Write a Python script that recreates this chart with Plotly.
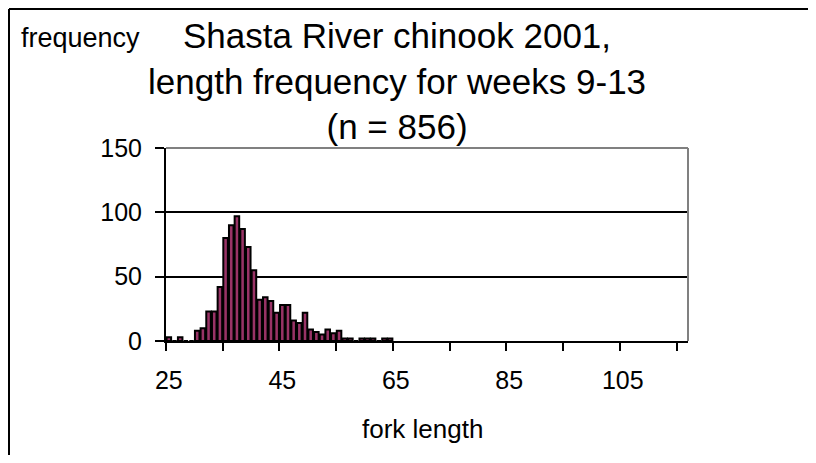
import plotly.graph_objects as go

FONT = "Liberation Sans, Arial, sans-serif"
MAROON = "#993366"
GREY = "#808080"

# fork length classes (mm) and counts
fork_length = [25, 26, 27, 28, 29, 30, 31, 32, 33, 34,
               35, 36, 37, 38, 39, 40, 41, 42, 43, 44,
               45, 46, 47, 48, 49, 50, 51, 52, 53, 54,
               55, 56, 57, 58, 59, 60, 61, 62, 63, 64]
frequency = [3, 0, 3, 0, 0, 8, 10, 23, 23, 42,
             80, 90, 97, 87, 73, 55, 32, 34, 31, 22,
             28, 28, 16, 14, 22, 9, 7, 5, 9, 6,
             8, 2, 2, 0, 2, 2, 2, 0, 2, 2]

x_labels = [25, 45, 65, 85, 105]
x_tick_marks = [24.5, 34.5, 44.5, 54.5, 64.5, 74.5, 84.5, 94.5, 104.5, 114.5]
y_ticks = [0, 50, 100, 150]

# the page body adds an 8px margin, so the figure is drawn shifted and smaller
OFF = 8
W, H = 816 - OFF, 463 - 2 * OFF
# plot area in page pixels: x 166..688, y 148..341
L, R, T, B = 166 - OFF, 688 - OFF, 148 - OFF, 341 - OFF
def px(x): return (x - OFF - L) / (R - L)
def py(y): return (B - (y - OFF)) / (B - T)

fig = go.Figure(go.Bar(
    x=fork_length, y=frequency,
    marker=dict(color=MAROON, line=dict(color="black", width=2)),
))

fig.update_layout(
    width=W, height=H,
    paper_bgcolor="white", plot_bgcolor="white",
    margin=dict(l=L, r=W - R, t=T, b=H - B),
    bargap=0.2, showlegend=False,
    font=dict(family=FONT, color="black", size=25),
    xaxis=dict(
        range=[24.5, 116.5], tickmode="array", tickvals=x_labels,
        ticks="", showgrid=False, zeroline=False,
        showline=True, linecolor="black", linewidth=2,
        tickfont=dict(size=25), ticklabelstandoff=16,
        minor=dict(tickmode="array", tickvals=x_tick_marks, ticks="outside",
                   ticklen=8, tickwidth=2, tickcolor="black", showgrid=False),
    ),
    yaxis=dict(
        range=[0, 150], tickmode="array", tickvals=y_ticks,
        ticks="outside", ticklen=9, tickwidth=2, tickcolor="black",
        showgrid=True, gridcolor="black", gridwidth=2, zeroline=False,
        showline=True, linecolor="black", linewidth=2,
        tickfont=dict(size=25), ticklabelstandoff=8,
    ),
)

fig.add_annotation(
    text="Shasta River chinook 2001,<br>length frequency for weeks 9-13<br>(n = 856)",
    xref="paper", yref="paper", x=px(397), y=py(14),
    xanchor="center", yanchor="top", showarrow=False,
    font=dict(size=35, family=FONT),
)
fig.add_annotation(
    text="frequency", xref="paper", yref="paper", x=px(19), y=py(38),
    xanchor="left", yanchor="middle", showarrow=False,
    font=dict(size=27, family=FONT),
)
fig.add_annotation(
    text="fork length", xref="paper", yref="paper", x=px(422), y=py(429),
    xanchor="center", yanchor="middle", showarrow=False,
    font=dict(size=26, family=FONT),
)

# plot-area border (grey top/right) and the outer chart frame
fig.add_shape(type="line", xref="paper", yref="paper", x0=0, x1=1, y0=1, y1=1,
              line=dict(color=GREY, width=2), layer="above")
fig.add_shape(type="line", xref="paper", yref="paper", x0=1, x1=1, y0=0, y1=1,
              line=dict(color=GREY, width=2), layer="above")
fig.add_shape(type="line", xref="paper", yref="paper", x0=px(9), x1=px(830),
              y0=py(9), y1=py(9), line=dict(color="black", width=2))
fig.add_shape(type="line", xref="paper", yref="paper", x0=px(9), x1=px(9),
              y0=py(9), y1=py(480), line=dict(color="black", width=2))

fig.write_html("out.html", config={"displayModeBar": False})
